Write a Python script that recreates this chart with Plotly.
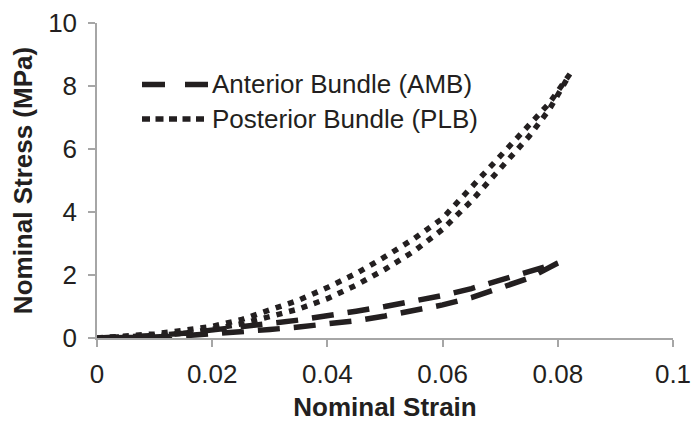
import plotly.graph_objects as go

# Strain grid (loading / unloading branches)
amb_strain = [0, 0.005, 0.01, 0.015, 0.02, 0.025, 0.03, 0.035, 0.04, 0.045,
              0.05, 0.055, 0.06, 0.065, 0.07, 0.075, 0.08]
amb_load = [0, 0.03, 0.08, 0.15, 0.24, 0.34, 0.46, 0.57, 0.69, 0.85,
            1.0, 1.17, 1.35, 1.57, 1.84, 2.12, 2.38]
amb_unload = [0, 0.01, 0.03, 0.07, 0.12, 0.19, 0.27, 0.35, 0.43, 0.55,
              0.70, 0.86, 1.05, 1.28, 1.60, 1.90, 2.38]

plb_strain = [0, 0.005, 0.01, 0.015, 0.02, 0.025, 0.03, 0.035, 0.04, 0.045,
              0.05, 0.055, 0.06, 0.065, 0.07, 0.075, 0.0785, 0.0821]
plb_load = [0, 0.05, 0.13, 0.24, 0.37, 0.58, 0.88, 1.20, 1.60, 2.05,
            2.58, 3.15, 3.80, 4.80, 5.75, 6.75, 7.45, 8.38]
plb_unload = [0, 0.02, 0.07, 0.15, 0.28, 0.45, 0.68, 0.92, 1.25, 1.68,
              2.18, 2.75, 3.45, 4.35, 5.35, 6.40, 7.25, 8.38]

series_names = ["Anterior Bundle (AMB)", "Posterior Bundle (PLB)"]
x_ticks = [0, 0.02, 0.04, 0.06, 0.08, 0.1]
x_tick_text = ["0", "0.02", "0.04", "0.06", "0.08", "0.1"]
y_ticks = [0, 2, 4, 6, 8, 10]

INK = "#231f20"
AXIS = "#a6a6a6"
TXT = "#231f20"
FONT = "Liberation Sans, Arial, sans-serif"

fig = go.Figure()

# each bundle: loading branch then unloading branch back to the origin
fig.add_trace(go.Scatter(
    x=amb_strain + amb_strain[::-1],
    y=amb_load + amb_unload[::-1],
    mode="lines", name=series_names[0], showlegend=False,
    line=dict(color=INK, width=5.5, dash="22px,14px"),
))
fig.add_trace(go.Scatter(
    x=plb_strain + plb_strain[::-1],
    y=plb_load + plb_unload[::-1],
    mode="lines", name=series_names[1], showlegend=False,
    line=dict(color=INK, width=5.5, dash="6px,7px"),
))

# custom legend (long samples like the reference)
legend_rows = [(0.805, "23px,20px"), (0.695, "8px,5.5px")]
for (yy, dash), name in zip(legend_rows, series_names):
    fig.add_shape(type="line", xref="paper", yref="paper",
                  x0=(142 - 97) / 576, x1=(208 - 97) / 576, y0=yy, y1=yy,
                  line=dict(color=INK, width=5.5, dash=dash))
    fig.add_annotation(xref="paper", yref="paper", x=(210 - 97) / 576, y=yy,
                       text=name, showarrow=False, xanchor="left",
                       yanchor="middle",
                       font=dict(family=FONT, size=26, color=TXT))

fig.update_layout(
    width=699, height=422,
    margin=dict(l=97, r=26, t=23, b=84),
    paper_bgcolor="white", plot_bgcolor="white",
    font=dict(family=FONT, color=TXT),
)
fig.update_xaxes(
    range=[0, 0.1], tickvals=x_ticks, ticktext=x_tick_text,
    showgrid=False, zeroline=False, showline=True, linecolor=AXIS,
    linewidth=1.5, ticks="outside", ticklen=7, tickcolor=AXIS, tickwidth=1.5,
    tickfont=dict(size=26, family=FONT, color=TXT),
    ticklabelstandoff=5,
    title=dict(text="<b>Nominal Strain</b>",
               font=dict(size=26, family=FONT, color=TXT),
               standoff=10),
    automargin=False,
)
fig.update_yaxes(
    range=[0, 10], tickvals=y_ticks,
    showgrid=False, zeroline=False, showline=True, linecolor=AXIS,
    linewidth=1.5, ticks="outside", ticklen=7, tickcolor=AXIS, tickwidth=1.5,
    tickfont=dict(size=26, family=FONT, color=TXT),
    ticklabelstandoff=6,
    title=dict(text="<b>Nominal Stress (MPa)</b>",
               font=dict(size=26, family=FONT, color=TXT),
               standoff=8),
    automargin=False,
)

fig.write_html("out.html")
